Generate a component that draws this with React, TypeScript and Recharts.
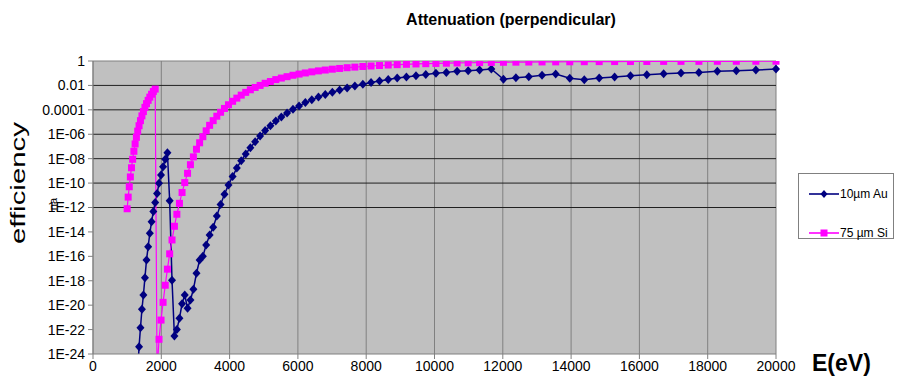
import { LineChart, Line, XAxis, YAxis, CartesianGrid } from 'recharts';

// photon energy grid (eV), log spaced from 1 keV to 20 keV
const energies = [
  1000, 1030, 1062, 1094, 1127, 1161, 1197, 1233, 1271, 1309,
  1349, 1390, 1433, 1476, 1521, 1567, 1615, 1664, 1715, 1767,
  1821, 1876, 1933, 1992, 2052, 2115, 2179, 2245, 2314, 2384,
  2456, 2531, 2608, 2687, 2769, 2853, 2940, 3030, 3122, 3217,
  3314, 3415, 3519, 3626, 3736, 3850, 3967, 4088, 4212, 4340,
  4472, 4608, 4748, 4893, 5041, 5195, 5353, 5515, 5683, 5856,
  6034, 6218, 6407, 6602, 6802, 7009, 7222, 7442, 7668, 7902,
  8142, 8390, 8645, 8908, 9178, 9458, 9745, 10042, 10347, 10662,
  10986, 11320, 11664, 12019, 12384, 12761, 13149, 13549, 13961, 14386,
  14823, 15274, 15738, 16217, 16710, 17218, 17742, 18282, 18838, 19411,
  20000,
];

// transmission of 10 um gold
const au10um = [
  null, null, null, null, null, null, null, null, null, 3e-26,
  4.0e-24, 1.4e-22, 4.6e-21, 6.8e-20, 1.8e-18, 5.0e-17, 6.2e-16, 7.6e-15, 6.9e-14, 4.6e-13,
  2.6e-12, 1.4e-11, 9.5e-11, 4.6e-10, 2.2e-9, 8.9e-9, 3.1e-8, 3.6e-12, 1.1e-18, 3.0e-23,
  1.0e-22, 8.3e-22, 1.3e-20, 6.8e-20, 5.5e-21, 2.6e-20, 2.0e-19, 4.1e-18, 5.0e-17, 1.0e-16,
  8.5e-16, 5.6e-15, 2.4e-14, 2.0e-13, 1.8e-12, 1.2e-11, 7.1e-11, 3.5e-10, 1.7e-9, 6.8e-9,
  2.4e-8, 7.9e-8, 2.4e-7, 7.2e-7, 2.0e-6, 5.0e-6, 1.2e-5, 2.6e-5, 5.6e-5, 1.1e-4,
  2.1e-4, 3.9e-4, 6.8e-4, 1.1e-3, 1.8e-3, 2.8e-3, 4.2e-3, 6.2e-3, 8.9e-3, 1.26e-2,
  1.7e-2, 2.3e-2, 3.1e-2, 4.0e-2, 5.0e-2, 6.3e-2, 7.9e-2, 9.8e-2, 0.117, 0.145,
  0.162, 0.182, 0.219, 0.0316, 0.0427, 0.0513, 0.0676, 0.0871, 0.038, 0.0295,
  0.0407, 0.049, 0.063, 0.0759, 0.0912, 0.105, 0.117, 0.145, 0.162, 0.182,
  0.219,
];

// transmission of 75 um silicon
const si75um = [
  7.9e-13, 7.1e-12, 5.0e-11, 3.2e-10, 1.8e-9, 8.9e-9, 4.0e-8, 1.6e-7, 5.6e-7, 1.8e-6,
  5.0e-6, 1.3e-5, 3.2e-5, 7.2e-5, 1.6e-4, 3.2e-4, 6.0e-4, 1.1e-3, 1.9e-3, 3.2e-3,
  5.0e-3, 3e-26, 1.6e-23, 6.0e-22, 1.7e-20, 4.3e-19, 8.9e-18, 1.6e-16, 2.2e-15, 2.9e-14,
  2.8e-13, 2.2e-12, 1.7e-11, 1.1e-10, 6.3e-10, 3.2e-9, 1.4e-8, 5.9e-8, 2.0e-7, 6.3e-7,
  1.9e-6, 5.4e-6, 1.3e-5, 3.0e-5, 6.3e-5, 1.3e-4, 2.6e-4, 5.0e-4, 9.1e-4, 1.6e-3,
  2.7e-3, 4.4e-3, 6.8e-3, 1.0e-2, 1.5e-2, 2.1e-2, 3.0e-2, 4.0e-2, 5.2e-2, 6.8e-2,
  8.5e-2, 0.105, 0.129, 0.155, 0.182, 0.214, 0.245, 0.282, 0.316, 0.355,
  0.389, 0.427, 0.468, 0.501, 0.537, 0.575, 0.603, 0.631, 0.661, 0.692,
  0.716, 0.741, 0.759, 0.785, 0.804, 0.822, 0.838, 0.851, 0.865, 0.877,
  0.889, 0.9, 0.908, 0.916, 0.925, 0.931, 0.938, 0.944, 0.948, 0.953,
  0.957,
];

const xTicks = [0, 2000, 4000, 6000, 8000, 10000, 12000, 14000, 16000, 18000, 20000];
const yTicks = [1, 1e-2, 1e-4, 1e-6, 1e-8, 1e-10, 1e-12, 1e-14, 1e-16, 1e-18, 1e-20, 1e-22, 1e-24];
const yTickLabels = ['1', '0.01', '0.0001', '1E-06', '1E-08', '1E-10', '1E-12', '1E-14', '1E-16', '1E-18', '1E-20', '1E-22', '1E-24'];
// only the upper decades carry a dark gridline
const darkGridValues = [1e-2, 1e-4, 1e-6, 1e-8, 1e-10, 1e-12];

const AU_COLOR = '#000080';
const SI_COLOR = '#FF00FF';
const FONT = '"Liberation Sans", Arial, sans-serif';

const chartData = energies.map((e, i) => ({ e, au: au10um[i], si: si75um[i] }));

const DiamondDot = (props: any) => {
  const { cx, cy, index, value } = props;
  if (value == null || cx == null || cy == null || isNaN(cy)) return <g key={`au-${index}`} />;
  return (
    <path
      key={`au-${index}`}
      d={`M${cx},${cy - 4.5}L${cx + 4},${cy}L${cx},${cy + 4.5}L${cx - 4},${cy}Z`}
      fill={AU_COLOR}
    />
  );
};

const SquareDot = (props: any) => {
  const { cx, cy, index, value } = props;
  if (value == null || cx == null || cy == null || isNaN(cy)) return <g key={`si-${index}`} />;
  return <rect key={`si-${index}`} x={cx - 3.5} y={cy - 3.5} width={7} height={7} fill={SI_COLOR} />;
};

const LegendRow = ({ label, color, marker }: { label: string; color: string; marker: 'diamond' | 'square' }) => (
  <div style={{ display: 'flex', alignItems: 'center', height: 14 }}>
    <svg width={30} height={10} style={{ marginLeft: 10 }}>
      <line x1={0} y1={5} x2={30} y2={5} stroke={color} strokeWidth={1.6} />
      {marker === 'diamond' ? (
        <path d="M15,1L18.5,5L15,9L11.5,5Z" fill={color} />
      ) : (
        <rect x={11.5} y={1.5} width={7} height={7} fill={color} />
      )}
    </svg>
    <span style={{ fontFamily: FONT, fontSize: 12, marginLeft: 1 }}>{label}</span>
  </div>
);

export default function App() {
  return (
    <div style={{ position: 'absolute', left: 0, top: 0, width: 897, height: 376, background: '#fff' }}>
      <LineChart width={897} height={376} data={chartData} margin={{ top: 61, right: 121, left: 0, bottom: 0 }}>
        <CartesianGrid fill="#C0C0C0" stroke="#808080" horizontalValues={[1]} />
        <CartesianGrid stroke="#202020" vertical={false} horizontalValues={darkGridValues} />
        <XAxis
          dataKey="e"
          type="number"
          domain={[0, 20000]}
          ticks={xTicks}
          interval={0}
          height={22}
          stroke="#808080"
          tickSize={5}
          tickMargin={2}
          tick={{ fill: '#000', fontSize: 14, fontFamily: FONT }}
        />
        <YAxis
          type="number"
          scale="log"
          domain={[1e-24, 1]}
          ticks={yTicks}
          interval={0}
          allowDataOverflow
          width={93}
          stroke="#808080"
          tickSize={5}
          tickMargin={3}
          tick={{ fill: '#000', fontSize: 14, fontFamily: FONT }}
          tickFormatter={(v: number) => yTickLabels[yTicks.indexOf(v)]}
        />
        <Line
          dataKey="au"
          name="10µm Au"
          stroke={AU_COLOR}
          strokeWidth={1.5}
          dot={DiamondDot}
          activeDot={false}
          isAnimationActive={false}
        />
        <Line
          dataKey="si"
          name="75 µm Si"
          stroke={SI_COLOR}
          strokeWidth={1.2}
          dot={SquareDot}
          activeDot={false}
          isAnimationActive={false}
        />
      </LineChart>

      <div style={{ position: 'absolute', left: 361, top: 11, width: 300, textAlign: 'center', fontFamily: FONT, fontSize: 16, fontWeight: 'bold' }}>
        Attenuation (perpendicular)
      </div>
      <div
        style={{
          position: 'absolute', left: -82, top: 170, width: 200, textAlign: 'center',
          fontFamily: FONT, fontSize: 21, lineHeight: '26px', transform: 'rotate(-90deg) scaleX(1.4)',
        }}
      >
        efficiency
      </div>
      <div
        style={{
          position: 'absolute', left: 33, top: 197, width: 40, textAlign: 'center',
          fontFamily: FONT, fontSize: 11, lineHeight: '14px', transform: 'rotate(-90deg)',
        }}
      >
        na
      </div>
      <div style={{ position: 'absolute', left: 812, top: 350, fontFamily: FONT, fontSize: 23, fontWeight: 'bold' }}>
        E(eV)
      </div>
      <div
        style={{
          position: 'absolute', left: 798, top: 173, width: 96, height: 66, boxSizing: 'border-box',
          border: '1px solid #808080', background: '#fff', paddingTop: 13,
        }}
      >
        <LegendRow label="10µm Au" color={AU_COLOR} marker="diamond" />
        <div style={{ height: 25 }} />
        <LegendRow label="75 µm Si" color={SI_COLOR} marker="square" />
      </div>
    </div>
  );
}
